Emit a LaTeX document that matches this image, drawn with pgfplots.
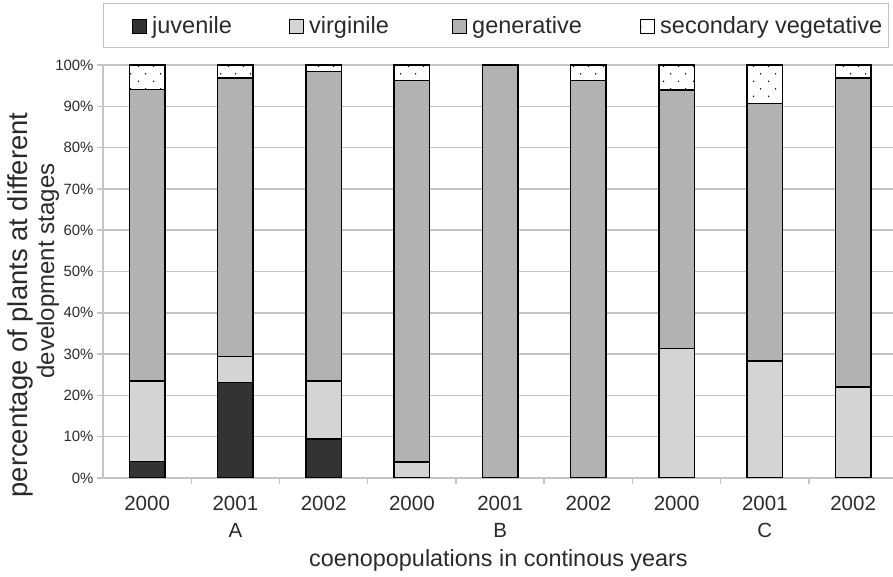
\documentclass[border=0pt]{standalone}
\usepackage{fontspec}
\setmainfont{Liberation Sans}
\usepackage{pgfplots}
\pgfplotsset{compat=1.18}
\usetikzlibrary{patterns}

\definecolor{juv}{HTML}{333333}
\definecolor{vir}{HTML}{D4D4D4}
\definecolor{gen}{HTML}{B2B2B2}
\definecolor{gridgray}{HTML}{C4C4C4}
\definecolor{txt}{HTML}{2A2A2A}

% sparse staggered dots, as in the original
\pgfdeclarepatternformonly{sparsedots}{\pgfqpoint{0pt}{0pt}}{\pgfqpoint{15pt}{15.4pt}}{\pgfqpoint{15pt}{15.4pt}}{%
  \pgfpathcircle{\pgfqpoint{3.75pt}{3.85pt}}{0.8pt}%
  \pgfpathcircle{\pgfqpoint{11.25pt}{11.55pt}}{0.8pt}%
  \pgfusepath{fill}}

\begin{document}
\begin{tikzpicture}
\begin{axis}[
  at={(103pt,99pt)}, anchor=south west,
  scale only axis, width=790pt, height=413pt,
  xmin=-0.5, xmax=8.452, ymin=0, ymax=100,
  ybar stacked, bar width=35.5pt,
  axis x line*=bottom, axis y line*=left,
  axis line style={draw=gridgray, line width=1.5pt, -},
  tick align=outside,
  major tick length=6pt, minor tick length=6pt,
  xtick={0,...,8},
  xticklabels={2000,2001\\A,2002,2000,2001\\B,2002,2000,2001\\C,2002},
  minor xtick={0.5,1.5,2.5,3.5,4.5,5.5,6.5,7.5},
  major x tick style={draw=none},
  minor x tick style={draw=gridgray, line width=1.5pt},
  xticklabel style={align=center, font=\fontsize{20.5}{26.5}\selectfont, text=txt, yshift=-9pt},
  ytick={0,10,...,100},
  yticklabels={0\%,10\%,20\%,30\%,40\%,50\%,60\%,70\%,80\%,90\%,100\%},
  yticklabel style={font=\fontsize{14.9}{18}\selectfont, text=txt},
  y tick style={draw=gridgray, line width=1.5pt},
  ymajorgrids,
  major grid style={draw=gridgray, line width=1.5pt},
  legend columns=4,
  legend cell align=left,
  legend style={at={(0.0367,1.0944)}, anchor=west, draw=none, fill=none,
    inner sep=0pt, column sep=0pt, nodes={inner sep=0pt},
    font=\fontsize{23.5}{28}\selectfont, text=txt},
  legend image code/.code={\draw[#1, line width=1pt] (0pt,-7pt) rectangle (14pt,7pt);},
]
\addplot[fill=juv, draw=black, line width=1.5pt] coordinates
  {(0,4) (1,23.1) (2,9.4) (3,0) (4,0) (5,0) (6,0) (7,0) (8,0)};
\addplot[fill=vir, draw=black, line width=1.5pt] coordinates
  {(0,19.5) (1,6.3) (2,14.1) (3,3.9) (4,0) (5,0) (6,31.3) (7,28.3) (8,22.0)};
\addplot[fill=gen, draw=black, line width=1.5pt] coordinates
  {(0,70.6) (1,67.4) (2,74.9) (3,92.3) (4,100) (5,96.2) (6,62.6) (7,62.4) (8,74.8)};
\addplot[fill=white, draw=black, line width=1.5pt, postaction={pattern=sparsedots, pattern color=black}] coordinates
  {(0,5.9) (1,3.2) (2,1.6) (3,3.8) (4,0) (5,3.8) (6,6.1) (7,9.3) (8,3.2)};
\addlegendentry{\makebox[142pt][l]{\hspace{5pt}juvenile}}
\addlegendentry{\makebox[148pt][l]{\hspace{5pt}virginile}}
\addlegendentry{\makebox[173pt][l]{\hspace{5pt}generative}}
\addlegendentry{\hspace{5pt}secondary vegetative}
\end{axis}
% legend frame
\draw[gridgray, line width=1pt] (103pt,529pt) rectangle (888pt,573pt);
% axis titles
\node[rotate=90, font=\fontsize{27.4}{30}\selectfont, text=txt] at (20pt,272pt) {percentage of plants at different};
\node[rotate=90, font=\fontsize{24}{28}\selectfont, text=txt] at (48pt,306pt) {development stages};
\node[anchor=base, font=\fontsize{23.4}{28}\selectfont, text=txt] at (498.5pt,10pt) {coenopopulations in continous years};
\pgfresetboundingbox
\useasboundingbox (0,0) rectangle (893pt,577pt);
\end{tikzpicture}
\end{document}
